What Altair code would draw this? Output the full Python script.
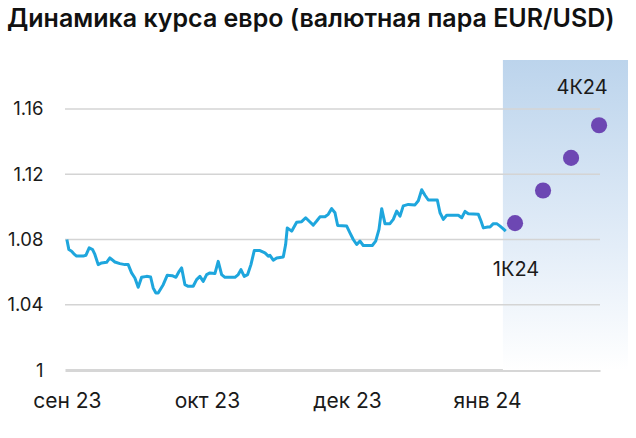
import altair as alt
import pandas as pd

TITLE = "Динамика курса евро (валютная пара EUR/USD)"

# Historical EUR/USD: (day index, rate)
hist_points = [
    (0.0, 1.0800), (0.43, 1.0738), (1.01, 1.0728), (1.50, 1.0712), (2.08, 1.0698),
    (3.49, 1.0698), (4.07, 1.0703), (4.78, 1.0749), (5.51, 1.0738), (6.00, 1.0708),
    (6.71, 1.0646), (7.44, 1.0656), (8.51, 1.0660), (9.21, 1.0687), (10.29, 1.0662),
    (11.36, 1.0652), (12.43, 1.0646), (13.14, 1.0646), (13.86, 1.0595), (14.57, 1.0564),
    (15.28, 1.0507), (16.01, 1.0568), (17.08, 1.0574), (17.94, 1.0570), (18.49, 1.0503),
    (19.07, 1.0472), (19.56, 1.0472), (20.64, 1.0523), (21.49, 1.0580), (22.56, 1.0578),
    (23.36, 1.0568), (24.06, 1.0605), (24.58, 1.0626), (25.29, 1.0523), (25.99, 1.0513),
    (27.06, 1.0513), (27.79, 1.0554), (28.50, 1.0574), (29.21, 1.0543), (29.94, 1.0585),
    (30.64, 1.0595), (31.71, 1.0591), (32.42, 1.0666), (33.15, 1.0585), (33.86, 1.0568),
    (36.00, 1.0568), (36.71, 1.0585), (37.29, 1.0615), (37.99, 1.0574), (38.72, 1.0585),
    (39.43, 1.0646), (40.14, 1.0732), (41.36, 1.0732), (42.43, 1.0718), (43.14, 1.0698),
    (43.50, 1.0703), (44.21, 1.0673), (44.94, 1.0687), (46.35, 1.0692), (46.86, 1.0769),
    (47.21, 1.0871), (48.15, 1.0851), (49.22, 1.0906), (50.29, 1.0909), (51.15, 1.0933),
    (51.86, 1.0913), (52.78, 1.0888), (53.51, 1.0913), (54.21, 1.0939), (55.29, 1.0939),
    (55.99, 1.0954), (56.72, 1.0989), (57.43, 1.0964), (58.01, 1.0886), (59.94, 1.0882),
    (60.64, 1.0841), (61.35, 1.0800), (62.08, 1.0769), (62.79, 1.0790), (63.49, 1.0763),
    (65.42, 1.0763), (66.15, 1.0790), (66.86, 1.0862), (67.44, 1.0989), (68.14, 1.0897),
    (69.21, 1.0897), (69.92, 1.0923), (70.65, 1.0974), (71.36, 1.0943), (72.06, 1.1006),
    (73.14, 1.1015), (74.57, 1.1012), (75.28, 1.1037), (76.01, 1.1105), (76.71, 1.1071),
    (77.42, 1.1042), (79.35, 1.1042), (79.93, 1.0964), (80.64, 1.0923), (81.36, 1.0948),
    (83.85, 1.0948), (84.58, 1.0933), (85.29, 1.0972), (85.99, 1.0958), (88.14, 1.0954),
    (88.71, 1.0913), (89.21, 1.0871), (90.15, 1.0877), (90.64, 1.0876), (91.35, 1.0897),
    (92.08, 1.0897), (92.79, 1.0882), (93.49, 1.0865), (94.01, 1.0851),
]
hist_t = [p[0] for p in hist_points]
hist_v = [p[1] for p in hist_points]

# Forecast quarters
fc_t = [96, 102, 108, 114]
fc_v = [1.09, 1.11, 1.13, 1.15]
fc_label = ["1К24", "", "", "4К24"]

# Axis
x_tick_t = [0, 30, 60, 90]
x_tick_labels = ["сен 23", "окт 23", "дек 23", "янв 24"]
y_ticks = [1.04, 1.08, 1.12, 1.16]

# forecast shaded band (t range)
band_t = [93.4, 120.2]

FONT = "Inter"
X_DOM = [-0.4, 114.2]
Y_DOM = [1.0, 1.19]

hist = pd.DataFrame({"t": hist_t, "v": hist_v})
fc = pd.DataFrame({"t": fc_t, "v": fc_v, "label": fc_label})
band = pd.DataFrame({"t": [band_t[0]], "t2": [band_t[1]], "v": [Y_DOM[1]], "v2": [Y_DOM[0]]})
grid = pd.DataFrame({"v": y_ticks})
title_df = pd.DataFrame({"text": [TITLE]})

label_expr = "{" + ",".join(f"'{t}':'{l}'" for t, l in zip(x_tick_t, x_tick_labels)) + "}[datum.value]"

xs = alt.Scale(domain=X_DOM, nice=False, zero=False)
ys = alt.Scale(domain=Y_DOM, nice=False, zero=False)

x_axis = alt.Axis(values=x_tick_t, labelExpr=label_expr, title=None, grid=False, ticks=False,
                  domain=True, domainColor="#d6d6d6", domainWidth=3,
                  labelFont=FONT, labelFontSize=21, labelColor="#1a1a1a", labelPadding=20,
                  labelAlign="center")
y_axis = alt.Axis(values=[1.0] + y_ticks, title=None, grid=False, ticks=False, domain=False,
                  labelExpr="datum.value == 1 ? '1' : format(datum.value, '.2f')",
                  labelFont=FONT, labelFontSize=18.5, labelColor="#1a1a1a", labelPadding=22)

shade = alt.Chart(band).mark_rect(
    clip=False,
    fill=alt.Gradient(gradient="linear", x1=0, x2=0, y1=0, y2=1,
                      stops=[alt.GradientStop(color="#bcd4ec", offset=0),
                             alt.GradientStop(color="#e3edf8", offset=0.6),
                             alt.GradientStop(color="#ffffff", offset=1)])
).encode(
    x=alt.X("t:Q", scale=xs, axis=x_axis), x2="t2:Q",
    y=alt.Y("v:Q", scale=ys, axis=y_axis), y2="v2:Q",
)

gridlines = alt.Chart(grid).mark_rule(color="#d4d4d4", strokeWidth=1.5).encode(
    y=alt.Y("v:Q", scale=ys)
)

line = alt.Chart(hist).mark_line(color="#1ea6dd", strokeWidth=3, strokeJoin="round").encode(
    x=alt.X("t:Q", scale=xs), y=alt.Y("v:Q", scale=ys)
)

dots = alt.Chart(fc).mark_circle(color="#6d47b3", opacity=1, size=260).encode(
    x=alt.X("t:Q", scale=xs), y=alt.Y("v:Q", scale=ys)
)

lab1 = alt.Chart(fc[fc["label"] == "1К24"]).mark_text(
    font=FONT, fontSize=20, color="#1a1a1a", dy=47, dx=1, clip=False
).encode(x=alt.X("t:Q", scale=xs), y=alt.Y("v:Q", scale=ys), text="label:N")

lab4 = alt.Chart(fc[fc["label"] == "4К24"]).mark_text(
    font=FONT, fontSize=20, color="#1a1a1a", dy=-37, dx=-17, clip=False
).encode(x=alt.X("t:Q", scale=xs), y=alt.Y("v:Q", scale=ys), text="label:N")

title = alt.Chart(title_df).mark_text(
    font=FONT, fontSize=25, fontWeight=600, color="#111111",
    align="left", baseline="alphabetic", clip=False
).encode(x=alt.value(-58), y=alt.value(-33), text="text:N")

chart = alt.layer(shade, gridlines, line, dots, lab1, lab4, title).properties(
    width=535, height=310,
    autosize=alt.AutoSizeParams(type="none"),
    padding={"left": 65, "top": 60, "right": 36, "bottom": 68},
).configure_view(stroke=None)

chart.save("out.html", embed_options={"renderer": "svg", "actions": False})
